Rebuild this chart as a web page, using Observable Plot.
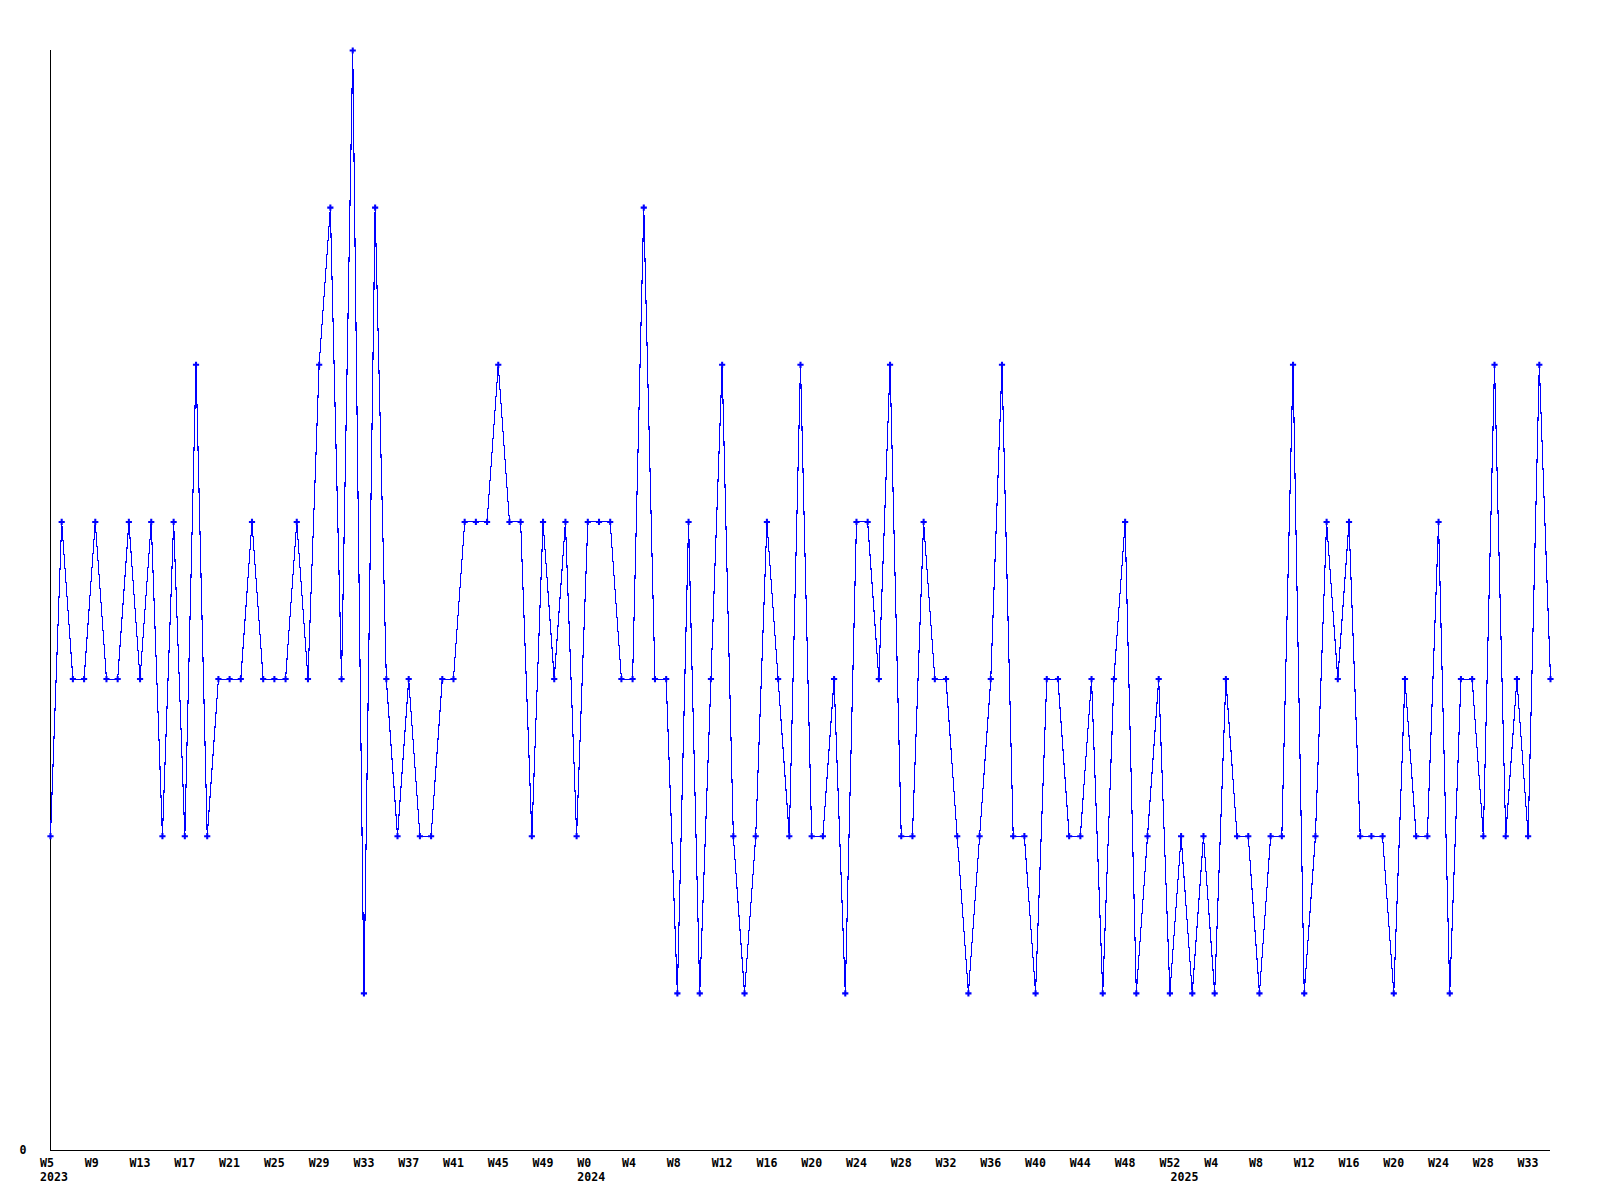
<!DOCTYPE html>
<html>
<head>
<meta charset="utf-8">
<script src="https://cdn.jsdelivr.net/npm/d3@7"></script>
<script src="https://cdn.jsdelivr.net/npm/@observablehq/plot@0.6"></script>
<style>
  html, body { margin: 0; padding: 0; background: #ffffff; }
  #chart svg { display: block; }
</style>
</head>
<body>
<div id="chart"></div>
<script>
// Weekly values, week index 0 = W5 2023
const values = [
  2,4,3,3,4,3,3,4,3,4,2,4,2,5,2,3,3,3,4,3,3,3,4,3,5,6,3,7,1,6,
  3,2,3,2,2,3,3,4,4,4,5,4,4,2,4,3,4,2,4,4,4,3,3,6,3,3,1,4,1,3,
  5,2,1,2,4,3,2,5,2,2,3,1,4,4,3,5,2,2,4,3,3,2,1,2,3,5,2,2,1,3,
  3,2,2,3,1,3,4,1,2,3,1,2,1,2,1,3,2,2,1,2,2,5,1,2,4,3,4,2,2,2,
  1,3,2,2,4,1,3,3,2,5,2,3,2,5,3
];

// x-axis tick positions (week index) and their labels
const tickWeeks = [0,4,8,12,16,20,24,28,32,36,40,44,48,52,56,60,64,68,72,76,80,84,88,92,96,100,104,108,112,116,120,124,128,132];
const tickLabels = [
  "W5","W9","W13","W17","W21","W25","W29","W33","W37","W41","W45","W49",
  "W0","W4","W8","W12","W16","W20","W24","W28","W32","W36","W40","W44","W48","W52",
  "W4","W8","W12","W16","W20","W24","W28","W33"
];

// year labels and the week index where they sit
const yearLabels = ["2023","2024","2025"];
const yearWeeks = [0,48,101];

const data = values.map((v, i) => ({week: i, value: v}));
const ticks = tickWeeks.map((w, i) => ({week: w, label: tickLabels[i]}));
const years = yearWeeks.map((w, i) => ({week: w, label: yearLabels[i]}));

const FONT = "'DejaVu Sans Mono', monospace";

const chart = Plot.plot({
  width: 1600,
  height: 1200,
  marginLeft: 50,
  marginRight: 50,
  marginTop: 50,
  marginBottom: 50,
  style: {background: "#ffffff", fontFamily: FONT, overflow: "visible"},
  x: {type: "linear", domain: [0, values.length - 1], axis: null},
  y: {type: "linear", domain: [0, 7], axis: null},
  marks: [
    Plot.ruleX([0], {stroke: "#000000", strokeWidth: 1, shapeRendering: "crispEdges"}),
    Plot.ruleY([0], {stroke: "#000000", strokeWidth: 1, shapeRendering: "crispEdges"}),
    Plot.line(data, {x: "week", y: "value", stroke: "#0000ff", strokeWidth: 1.1, curve: "linear", shapeRendering: "crispEdges"}),
    Plot.dot(data, {x: "week", y: "value", symbol: "cross", r: 2.6, fill: "#0000ff", stroke: "none"}),
    Plot.text([0], {
      x: 0, y: 0, text: d => String(d), frameAnchor: "left",
      textAnchor: "end", dx: -24, lineAnchor: "middle",
      fontFamily: FONT, fontWeight: "bold", fontSize: 11.6, fill: "#000000"
    }),
    Plot.text(ticks, {
      x: "week", y: () => 0, text: "label",
      textAnchor: "start", dx: -10.5, dy: 12.5, lineAnchor: "middle",
      fontFamily: FONT, fontWeight: "bold", fontSize: 11.6, fill: "#000000"
    }),
    Plot.text(years, {
      x: "week", y: () => 0, text: "label",
      textAnchor: "start", dx: -10.5, dy: 27, lineAnchor: "middle",
      fontFamily: FONT, fontWeight: "bold", fontSize: 11.6, fill: "#000000"
    })
  ]
});

document.getElementById("chart").appendChild(chart);
</script>
</body>
</html>
